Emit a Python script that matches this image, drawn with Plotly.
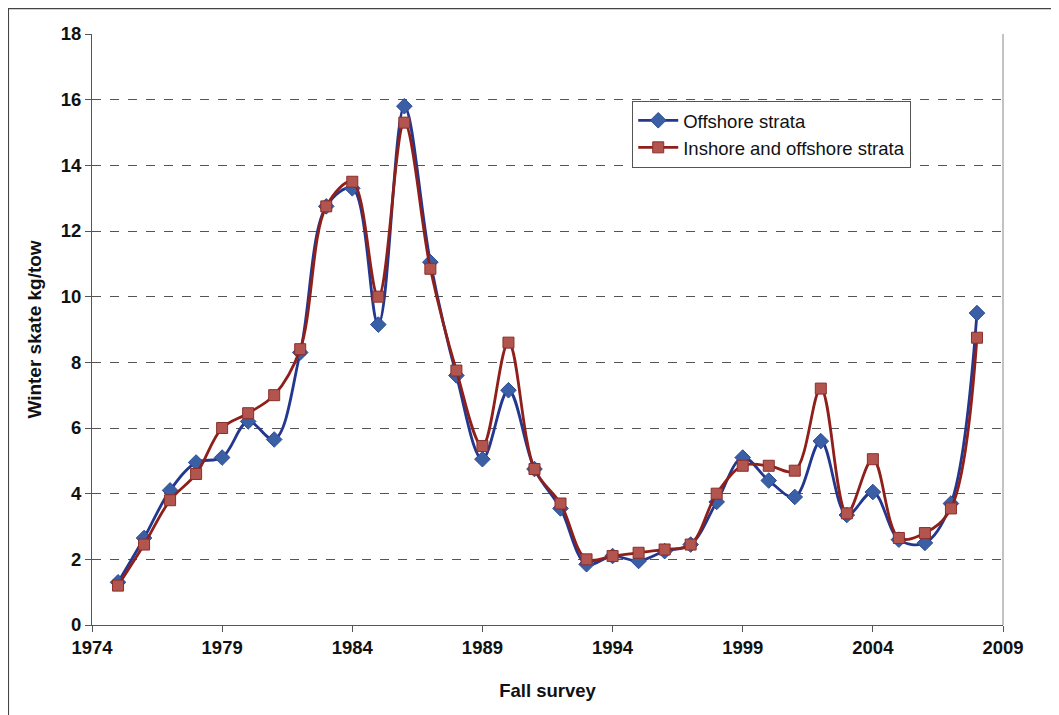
import plotly.graph_objects as go

years = list(range(1975, 2009))
offshore = [1.3, 2.65, 4.1, 4.95, 5.1, 6.2, 5.65, 8.3, 12.75, 13.3, 9.15, 15.8, 11.05, 7.6,
            5.05, 7.15, 4.75, 3.55, 1.85, 2.1, 1.95, 2.25, 2.45, 3.75, 5.1, 4.4, 3.9, 5.6,
            3.35, 4.05, 2.6, 2.5, 3.7, 9.5]
inshore_offshore = [1.2, 2.45, 3.8, 4.6, 6.0, 6.45, 7.0, 8.4, 12.75, 13.5, 10.0, 15.3, 10.85, 7.75,
                    5.45, 8.6, 4.75, 3.7, 2.0, 2.1, 2.2, 2.3, 2.45, 4.0, 4.85, 4.85, 4.7, 7.2,
                    3.4, 5.05, 2.65, 2.8, 3.55, 8.75]
x_ticks = [1974, 1979, 1984, 1989, 1994, 1999, 2004, 2009]
y_ticks = [0, 2, 4, 6, 8, 10, 12, 14, 16, 18]

fig = go.Figure()
fig.add_trace(go.Scatter(
    x=years, y=offshore, name="Offshore strata", mode="lines+markers",
    line=dict(color="#23378F", width=2.8, shape="spline", smoothing=1),
    marker=dict(symbol="diamond", size=12, color="#3A5FA5", line=dict(color="#2A4A95", width=1)),
))
fig.add_trace(go.Scatter(
    x=years, y=inshore_offshore, name="Inshore and offshore strata", mode="lines+markers",
    line=dict(color="#8E1F1B", width=2.8, shape="spline", smoothing=1),
    marker=dict(symbol="square", size=11, color="#B3554F", line=dict(color="#8A2E2A", width=1)),
))

font_fam = "Liberation Sans, Arial, sans-serif"
fig.update_layout(
    width=1051, height=707,
    margin=dict(l=84, r=56, t=26, b=90, autoexpand=False),
    paper_bgcolor="white", plot_bgcolor="white",
    font=dict(family=font_fam, color="#111111"),
    showlegend=True,
    legend=dict(
        x=0.593, y=0.887, xanchor="left", yanchor="top",
        bgcolor="white", bordercolor="#555555", borderwidth=1,
        font=dict(size=18.5, family=font_fam, color="#111111"),
        tracegroupgap=0, itemwidth=40,
    ),
    xaxis=dict(
        range=[1974, 2009], tickmode="array", tickvals=x_ticks,
        ticktext=[str(v) for v in x_ticks],
        showgrid=False, zeroline=False, automargin=False,
        showline=True, linecolor="#555555", linewidth=1,
        ticks="outside", ticklen=6, tickcolor="#555555",
        tickfont=dict(size=18.5, family=font_fam, color="#111111", weight="bold"),
        title=dict(text="<b>Fall survey</b>", font=dict(size=18.5, family=font_fam), standoff=26),
    ),
    yaxis=dict(
        range=[0, 18], tickmode="array", tickvals=y_ticks,
        showgrid=True, gridcolor="#555555", griddash="dash", gridwidth=1,
        zeroline=False, automargin=False,
        showline=True, linecolor="#555555", linewidth=1,
        ticks="outside", ticklen=6, tickcolor="#555555",
        tickfont=dict(size=18.5, family=font_fam, color="#111111", weight="bold"),
        title=dict(text="<b>Winter skate kg/tow</b>", font=dict(size=19, family=font_fam), standoff=14),
    ),
    shapes=[
        dict(type="line", xref="paper", yref="paper", x0=1, x1=1, y0=0, y1=1,
             line=dict(color="#888888", width=1)),
        dict(type="path", xref="paper", yref="paper",
             path="M -0.0917,-0.2 L -0.0917,1.043 L 1.057,1.043 L 1.057,-0.2",
             line=dict(color="#444444", width=1.2)),
    ],
)

fig.write_html("out.html")
